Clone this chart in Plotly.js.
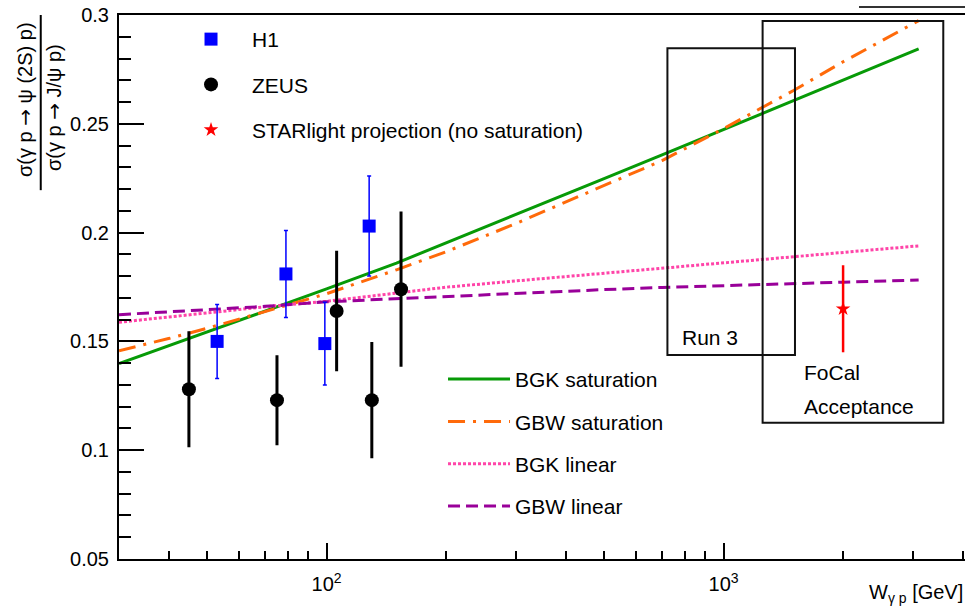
<!DOCTYPE html>
<html>
<head>
<meta charset="utf-8">
<script src="https://cdn.plot.ly/plotly-3.0.1.min.js"></script>
<style>
  html, body { margin: 0; padding: 0; background: #fff; }
  #plot { width: 965px; height: 609px; }
</style>
</head>
<body>
<div id="plot"></div>
<script>
// Photoproduction energy W_{gamma p} in GeV and the psi(2S)/J/psi cross-section ratio

// H1 measurements
const h1W = [53, 79, 99, 128];
const h1Ratio = [0.150, 0.181, 0.149, 0.203];
const h1Err = [0.017, 0.020, 0.019, 0.023];

// ZEUS measurements
const zeusW = [45, 75, 106, 130, 154];
const zeusRatio = [0.128, 0.123, 0.164, 0.123, 0.174];
const zeusErr = [0.026, 0.020, 0.027, 0.026, 0.035];

// STARlight projection
const starW = [2000];
const starRatio = [0.165];
const starErr = [0.020];

// Model curves
const modelW = [30, 40, 50, 70, 100, 150, 200, 300, 500, 700, 1000, 1500, 2000, 3100];
const bgkSat = [0.1398, 0.1480, 0.1544, 0.1639, 0.1741, 0.1860, 0.1952, 0.2083, 0.2248, 0.2357, 0.2474, 0.2607, 0.2701, 0.2844];
const gbwSat = [0.1457, 0.1513, 0.1560, 0.1636, 0.1719, 0.1829, 0.1912, 0.2042, 0.2215, 0.2331, 0.2478, 0.2653, 0.2785, 0.2974];
const bgkLin = [0.1588, 0.1612, 0.1631, 0.1659, 0.1684, 0.1724, 0.1749, 0.1778, 0.1813, 0.1836, 0.1861, 0.1889, 0.1909, 0.1939];
const gbwLin = [0.1623, 0.1636, 0.1646, 0.1661, 0.1682, 0.1696, 0.1709, 0.1722, 0.1738, 0.1748, 0.1757, 0.1766, 0.1772, 0.1782];

// Kinematic regions
const run3W = [722, 1513];
const run3R = [0.1437, 0.2847];
const focalW = [1254, 3576];
const focalR = [0.1126, 0.2972];

// Axis ticks
const xMajor = [100, 1000];
const xMajorText = ['10<sup>2</sup>', '10<sup>3</sup>'];
const xMinor = [30, 40, 50, 60, 70, 80, 90, 200, 300, 400, 500, 600, 700, 800, 900, 2000, 3000, 4000];
const yMajor = [0.05, 0.1, 0.15, 0.2, 0.25, 0.3];
const yMajorText = ['0.05', '0.1', '0.15', '0.2', '0.25', '0.3'];

const FONT = 'Liberation Sans, Arial, Helvetica, sans-serif';
const ARROW = '<span style="font-family:DejaVu Sans">→</span>';

const traces = [
  { x: modelW, y: bgkSat, mode: 'lines', name: 'BGK saturation', legend: 'legend2', legendgroup: 'g1',
    line: { color: '#079a07', width: 3 } },
  { x: modelW, y: gbwSat, mode: 'lines', name: 'GBW saturation', legend: 'legend2', legendgroup: 'g2',
    line: { color: '#ff6a0a', width: 3, dash: '17px,8px,3px,8px' } },
  { x: modelW, y: bgkLin, mode: 'lines', name: 'BGK linear', legend: 'legend2', legendgroup: 'g3',
    line: { color: '#ff44a8', width: 3, dash: '3px,2px' } },
  { x: modelW, y: gbwLin, mode: 'lines', name: 'GBW linear', legend: 'legend2', legendgroup: 'g4',
    line: { color: '#990099', width: 3, dash: '12px,6px' } },
  { x: h1W, y: h1Ratio, mode: 'markers', name: 'H1', legend: 'legend', legendgroup: 'p1',
    marker: { symbol: 'square', size: 13, color: '#0000ff' },
    error_y: { type: 'data', array: h1Err, visible: true, color: '#0000ff', thickness: 1.5, width: 2 } },
  { x: zeusW, y: zeusRatio, mode: 'markers', name: 'ZEUS', legend: 'legend', legendgroup: 'p2',
    marker: { symbol: 'circle', size: 14, color: '#000000' },
    error_y: { type: 'data', array: zeusErr, visible: true, color: '#000000', thickness: 3, width: 1.5 } },
  { x: starW, y: starRatio, mode: 'markers', name: 'STARlight projection (no saturation)', legend: 'legend', legendgroup: 'p3',
    marker: { symbol: 'star', size: 11, color: '#ff0000' },
    error_y: { type: 'data', array: starErr, visible: true, color: '#ff0000', thickness: 2.5, width: 0 } }
];

const boxLine = { color: '#111', width: 2 };

const layout = {
  width: 965, height: 609,
  margin: { l: 119, r: 0, t: 15, b: 50 },
  paper_bgcolor: '#fff', plot_bgcolor: '#fff',
  font: { family: FONT, color: '#000', size: 20 },
  showlegend: true,
  xaxis: {
    type: 'log', range: [Math.log10(30), 3.6081],
    showline: true, linecolor: '#000', linewidth: 2, mirror: true,
    showgrid: false, zeroline: false,
    ticks: 'inside', ticklen: 16, tickwidth: 2, tickcolor: '#000',
    tickmode: 'array', tickvals: xMajor, ticktext: xMajorText,
    tickfont: { family: FONT, size: 20, color: '#000' },
    ticklabelstandoff: 6,
    minor: { tickmode: 'array', tickvals: xMinor, ticks: 'inside', ticklen: 8, tickwidth: 2, tickcolor: '#000', showgrid: false }
  },
  yaxis: {
    range: [0.05, 0.3],
    showline: true, linecolor: '#000', linewidth: 2, mirror: false,
    showgrid: false, zeroline: false,
    ticks: 'inside', ticklen: 25, tickwidth: 2, tickcolor: '#000',
    tickmode: 'array', tickvals: yMajor, ticktext: yMajorText,
    tickfont: { family: FONT, size: 20, color: '#000' },
    ticklabelstandoff: 4,
    minor: { dtick: 0.01, tick0: 0, ticks: 'inside', ticklen: 12, tickwidth: 2, tickcolor: '#000', showgrid: false }
  },
  legend: {
    x: 0.0603, y: 0.9927, xanchor: 'left', yanchor: 'top',
    bgcolor: 'rgba(0,0,0,0)', borderwidth: 0,
    font: { family: FONT, size: 21, color: '#000' },
    itemwidth: 72, tracegroupgap: 15, traceorder: 'grouped'
  },
  legend2: {
    x: 0.383, y: 0.3677, xanchor: 'left', yanchor: 'top',
    bgcolor: 'rgba(0,0,0,0)', borderwidth: 0,
    font: { family: FONT, size: 21, color: '#000' },
    itemwidth: 62, tracegroupgap: 12, traceorder: 'grouped'
  },
  shapes: [
    { type: 'rect', xref: 'x', yref: 'y', x0: run3W[0], x1: run3W[1], y0: run3R[0], y1: run3R[1], line: boxLine, layer: 'above' },
    { type: 'rect', xref: 'x', yref: 'y', x0: focalW[0], x1: focalW[1], y0: focalR[0], y1: focalR[1], line: boxLine, layer: 'above' },
    // fraction bar of the y-axis title
    { type: 'line', xref: 'paper', yref: 'paper', x0: -0.0925, x1: -0.0925, y0: 1.0, y1: 0.678, line: { color: '#000', width: 2 } },
    // lower edge of the header box above the frame
    { type: 'line', xref: 'paper', yref: 'paper', x0: 0.8747, x1: 1.0, y0: 1.0147, y1: 1.0147, line: { color: '#333', width: 2 } }
  ],
  annotations: [
    { xref: 'paper', yref: 'paper', x: 0, y: 0.8438, xshift: -94, textangle: -90, showarrow: false,
      xanchor: 'center', yanchor: 'middle', text: 'σ(γ p ' + ARROW + ' ψ (2S) p)', font: { family: FONT, size: 20 } },
    { xref: 'paper', yref: 'paper', x: 0, y: 0.829, xshift: -65, textangle: -90, showarrow: false,
      xanchor: 'center', yanchor: 'middle', text: 'σ(γ p ' + ARROW + ' J/ψ p)', font: { family: FONT, size: 20 } },
    { xref: 'paper', yref: 'paper', x: 1, y: -0.064, xanchor: 'right', yanchor: 'middle', showarrow: false,
      text: 'W<sub>γ p</sub> [GeV]', font: { family: FONT, size: 20 } },
    { xref: 'x', yref: 'y', x: Math.log10(775), y: 0.1517, xanchor: 'left', yanchor: 'middle', showarrow: false,
      text: 'Run 3', font: { family: FONT, size: 21 } },
    { xref: 'x', yref: 'y', x: Math.log10(1575), y: 0.1356, xanchor: 'left', yanchor: 'middle', showarrow: false,
      text: 'FoCal', font: { family: FONT, size: 21 } },
    { xref: 'x', yref: 'y', x: Math.log10(1575), y: 0.1200, xanchor: 'left', yanchor: 'middle', showarrow: false,
      text: 'Acceptance', font: { family: FONT, size: 21 } }
  ]
};

Plotly.newPlot('plot', traces, layout, { staticPlot: true, displayModeBar: false });
</script>
</body>
</html>
